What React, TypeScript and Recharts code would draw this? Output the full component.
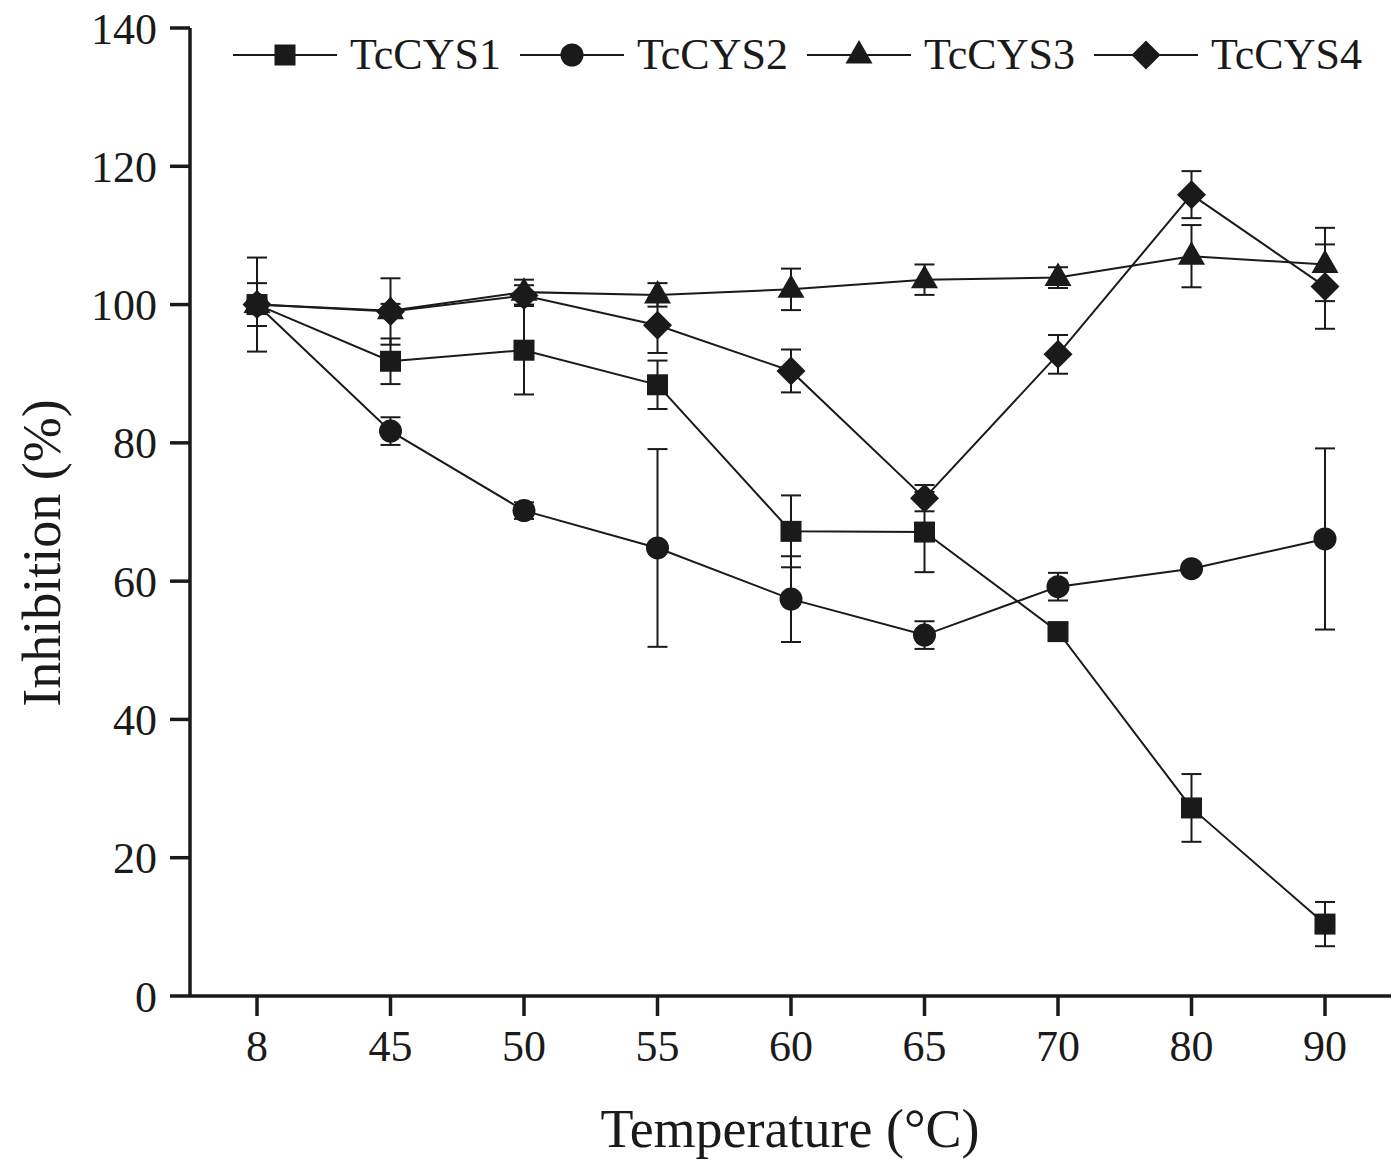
import { LineChart, Line, XAxis, YAxis, ErrorBar, Legend } from 'recharts';

const temps = ['8', '45', '50', '55', '60', '65', '70', '80', '90'];
const cys1 = [100, 91.8, 93.4, 88.4, 67.2, 67.1, 52.7, 27.2, 10.4];
const cys1Err = [3.1, 3.3, 6.4, 3.5, 5.2, 5.8, 0.8, 4.9, 3.2];
const cys2 = [100, 81.7, 70.2, 64.8, 57.4, 52.2, 59.2, 61.8, 66.1];
const cys2Err = [0.5, 2, 1.2, 14.3, 6.2, 2, 2, 0.5, 13.1];
const cys3 = [100, 99.1, 101.8, 101.4, 102.2, 103.6, 103.9, 107.0, 105.8];
const cys3Err = [1, 1, 1.8, 1.7, 3, 2.2, 1.5, 4.5, 5.3];
const cys4 = [100, 99, 101.3, 97.0, 90.4, 72.0, 92.8, 115.9, 102.6];
const cys4Err = [6.8, 4.8, 1.5, 4, 3.1, 1.9, 2.8, 3.4, 6.1];
const yTicks = [0, 20, 40, 60, 80, 100, 120, 140];

const data = temps.map((t, i) => ({
  t,
  s1: cys1[i], e1: cys1Err[i],
  s2: cys2[i], e2: cys2Err[i],
  s3: cys3[i], e3: cys3Err[i],
  s4: cys4[i], e4: cys4Err[i],
}));

const INK = '#1a1a1a';
const FONT = '"Liberation Serif", "Times New Roman", serif';

const series = [
  { key: 's1', err: 'e1', name: 'TcCYS1', shape: 'square' },
  { key: 's2', err: 'e2', name: 'TcCYS2', shape: 'circle' },
  { key: 's3', err: 'e3', name: 'TcCYS3', shape: 'triangle' },
  { key: 's4', err: 'e4', name: 'TcCYS4', shape: 'diamond' },
];

const Marker = ({ shape, cx, cy }: { shape: string; cx: number; cy: number }) => {
  if (shape === 'square') return <rect x={cx - 10.5} y={cy - 10.5} width={21} height={21} fill={INK} />;
  if (shape === 'circle') return <circle cx={cx} cy={cy} r={11.5} fill={INK} />;
  if (shape === 'triangle')
    return <polygon points={`${cx},${cy - 15} ${cx + 13.5},${cy + 8.5} ${cx - 13.5},${cy + 8.5}`} fill={INK} />;
  return <polygon points={`${cx},${cy - 14.5} ${cx + 14.5},${cy} ${cx},${cy + 14.5} ${cx - 14.5},${cy}`} fill={INK} />;
};

const LegendBox = () => (
  <div style={{ display: 'flex', alignItems: 'center' }}>
    {series.map((s) => (
      <div key={s.key} style={{ display: 'flex', alignItems: 'center', width: 287 }}>
        <svg width={104} height={36}>
          <line x1={0} x2={104} y1={18} y2={18} stroke={INK} strokeWidth={2} />
          <Marker shape={s.shape} cx={52} cy={18} />
        </svg>
        <span style={{ marginLeft: 13, fontSize: 44, lineHeight: '44px', fontFamily: FONT, color: INK }}>{s.name}</span>
      </div>
    ))}
  </div>
);

const tickStyle = { fontSize: 44, fontFamily: FONT, fill: INK };

export default function App() {
  return (
    <div style={{ position: 'absolute', left: 0, top: 0, width: 1397, height: 1160, background: '#fff' }}>
      <LineChart width={1397} height={1160} data={data} margin={{ top: 28, right: 6, left: 0, bottom: 0 }}>
        <XAxis
          dataKey="t"
          height={164}
          padding={{ left: 67, right: 66 }}
          axisLine={{ stroke: INK, strokeWidth: 3.5 }}
          tickLine={{ stroke: INK, strokeWidth: 3.5 }}
          tickSize={20}
          tickMargin={14}
          tick={tickStyle}
          label={{
            content: () => (
              <text x={790} y={1147} textAnchor="middle" fontSize={54} fontFamily={FONT} fill={INK}>
                Temperature (°C)
              </text>
            ),
          }}
        />
        <YAxis
          width={190}
          domain={[0, 140]}
          ticks={yTicks}
          axisLine={{ stroke: INK, strokeWidth: 3.5 }}
          tickLine={{ stroke: INK, strokeWidth: 3.5 }}
          tickSize={20}
          tickMargin={13}
          tick={tickStyle}
          label={{
            content: () => (
              <text x={60} y={553} transform="rotate(-90, 60, 553)" textAnchor="middle" fontSize={54} fontFamily={FONT} fill={INK}>
                Inhibition (%)
              </text>
            ),
          }}
        />
        <Legend
          layout="vertical"
          verticalAlign="middle"
          align="center"
          content={() => <LegendBox />}
          wrapperStyle={{ left: 233, top: 33, width: 1160, height: 44 }}
        />
        {series.map((s) => (
          <Line
            key={s.key}
            dataKey={s.key}
            name={s.name}
            stroke={INK}
            strokeWidth={2}
            isAnimationActive={false}
            dot={(p: any) => <Marker key={`${s.key}-${p.index}`} shape={s.shape} cx={p.cx} cy={p.cy} />}
            activeDot={false}
          >
            <ErrorBar dataKey={s.err} direction="y" width={10} stroke={INK} strokeWidth={2} />
          </Line>
        ))}
      </LineChart>
    </div>
  );
}
